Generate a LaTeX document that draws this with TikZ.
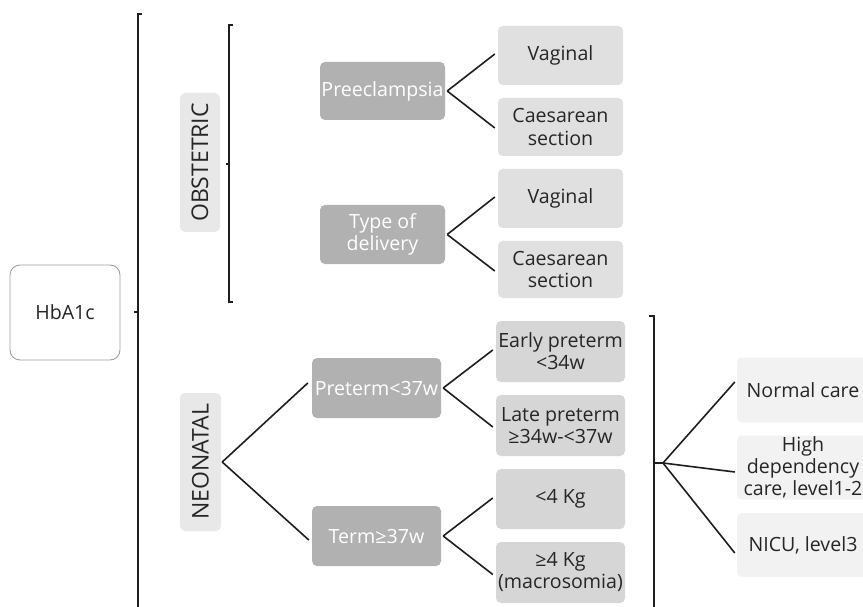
\documentclass[tikz,border=0pt]{standalone}
\usepackage{fontspec}
\setmainfont{Open Sans}
\definecolor{boxdark}{HTML}{B1B1B1}
\definecolor{boxlight}{HTML}{E0E0E0}
\definecolor{boxmid}{HTML}{D6D6D6}
\definecolor{boxlab}{HTML}{E8E8E8}
\definecolor{boxpale}{HTML}{F2F2F2}
\definecolor{txt}{HTML}{262626}
\definecolor{ln}{HTML}{1E1E1E}
\begin{document}
\begin{tikzpicture}[x=1pt,y=-1pt,
  base/.style={rounded corners=5pt, inner sep=1pt, align=center,
    font=\fontsize{19.6}{22}\selectfont},
  dark/.style={base, fill=boxdark, text=white},
  light/.style={base, fill=boxlight, text=txt},
  mid/.style={base, fill=boxmid, text=txt},
  pale/.style={base, fill=boxpale, text=txt},
  lab/.style={base, fill=boxlab, text=txt, rotate=90, font=\fontsize{23}{26}\selectfont},
  hbox/.style={base, fill=white, draw=gray!75, line width=0.9pt, rounded corners=10pt, text=txt},
  conn/.style={draw=ln, line width=1.6pt},
  brk/.style={draw=ln, line width=1.6pt}]
\clip (0,0) rectangle (863,607);
\fill[white] (0,0) rectangle (863,607);
% root
\node[hbox, minimum width=110pt, minimum height=95pt] (hb) at (65,312.5) {HbA1c};
% category labels
\node[lab, minimum width=139pt, minimum height=40pt] (obs) at (200,162.5) {OBSTETRIC};
\node[lab, minimum width=138pt, minimum height=41pt] (neo) at (200.5,462) {NEONATAL};
% obstetric
\node[dark, minimum width=125pt, minimum height=58pt] (pre) at (382.5,91) {Preeclampsia};
\node[dark, minimum width=125pt, minimum height=59pt] (tod) at (382.5,234.5) {Type of\\delivery};
\node[light, minimum width=125pt, minimum height=59pt] (vag1) at (560.5,55.5) {Vaginal};
\node[light, minimum width=125pt, minimum height=58pt] (cs1) at (560.5,127) {Caesarean\\section};
\node[light, minimum width=125pt, minimum height=59pt] (vag2) at (560.5,198.5) {Vaginal};
\node[light, minimum width=125pt, minimum height=57pt] (cs2) at (560.5,269.5) {Caesarean\\section};
% neonatal
\node[dark, minimum width=129pt, minimum height=60pt] (pt) at (376.5,388) {Preterm<37w};
\node[dark, minimum width=129pt, minimum height=60pt] (tm) at (376.5,536) {Term≥37w};
\node[mid, minimum width=129pt, minimum height=61pt] (ept) at (560.5,351.5) {Early preterm\\<34w};
\node[mid, minimum width=129pt, minimum height=61pt] (lpt) at (560.5,425.5) {Late preterm\\≥34w-<37w};
\node[mid, minimum width=129pt, minimum height=60pt] (lt4) at (560.5,499) {<4 Kg};
\node[mid, minimum width=129pt, minimum height=61pt] (ge4) at (560.5,572.5) {≥4 Kg\\(macrosomia)};
% care
\node[pale, minimum width=132pt, minimum height=65pt] (nc) at (803,390) {Normal care};
\node[pale, minimum width=132pt, minimum height=64pt] (hd) at (803,467.5) {High\\dependency\\care, level1-2};
\node[pale, minimum width=132pt, minimum height=64pt] (ni) at (803,545) {NICU, level3};
% brackets
\coordinate (b1) at (138,312);
\draw[brk] (142,14) -- (138,14) -- (138,612);
\draw[brk] (b1) -- ++(-4,0);
\coordinate (b2) at (229,164);
\draw[brk] (233,25) -- (229,25) -- (229,302) -- (233,302);
\draw[brk] (b2) -- ++(-3.5,0);
\coordinate (b3) at (654,463);
\coordinate (fan) at (663,463);
\draw[brk] (649,316) -- (654,316) -- (654,612);
\draw[brk] (b3) -- (fan);
% connectors
\draw[conn] ([xshift=2pt]pre.east) -- ([xshift=-3pt,yshift=1.5pt]vag1.west);
\draw[conn] ([xshift=2pt]pre.east) -- ([xshift=-3pt,yshift=-1pt]cs1.west);
\draw[conn] ([xshift=2pt]tod.east) -- ([xshift=-3pt,yshift=1.5pt]vag2.west);
\draw[conn] ([xshift=2pt]tod.east) -- ([xshift=-3pt,yshift=-1.5pt]cs2.west);
\draw[conn] ([xshift=1pt]neo.south) -- ([xshift=-4pt,yshift=5pt]pt.west);
\draw[conn] ([xshift=1pt]neo.south) -- ([xshift=-3pt,yshift=-4pt]tm.west);
\draw[conn] ([xshift=2pt]pt.east) -- ([xshift=-3pt,yshift=1.5pt]ept.west);
\draw[conn] ([xshift=2pt]pt.east) -- ([xshift=-3pt,yshift=-1.5pt]lpt.west);
\draw[conn] ([xshift=2pt]tm.east) -- ([xshift=-3pt,yshift=1pt]lt4.west);
\draw[conn] ([xshift=2pt]tm.east) -- ([xshift=-3pt,yshift=-2pt]ge4.west);
\draw[conn] (fan) -- ([xshift=-2pt,yshift=8pt]nc.west);
\draw[conn] (fan) -- ([xshift=-2pt,yshift=-4.5pt]hd.west);
\draw[conn] (fan) -- ([xshift=-2pt,yshift=-8pt]ni.west);
\end{tikzpicture}
\end{document}
